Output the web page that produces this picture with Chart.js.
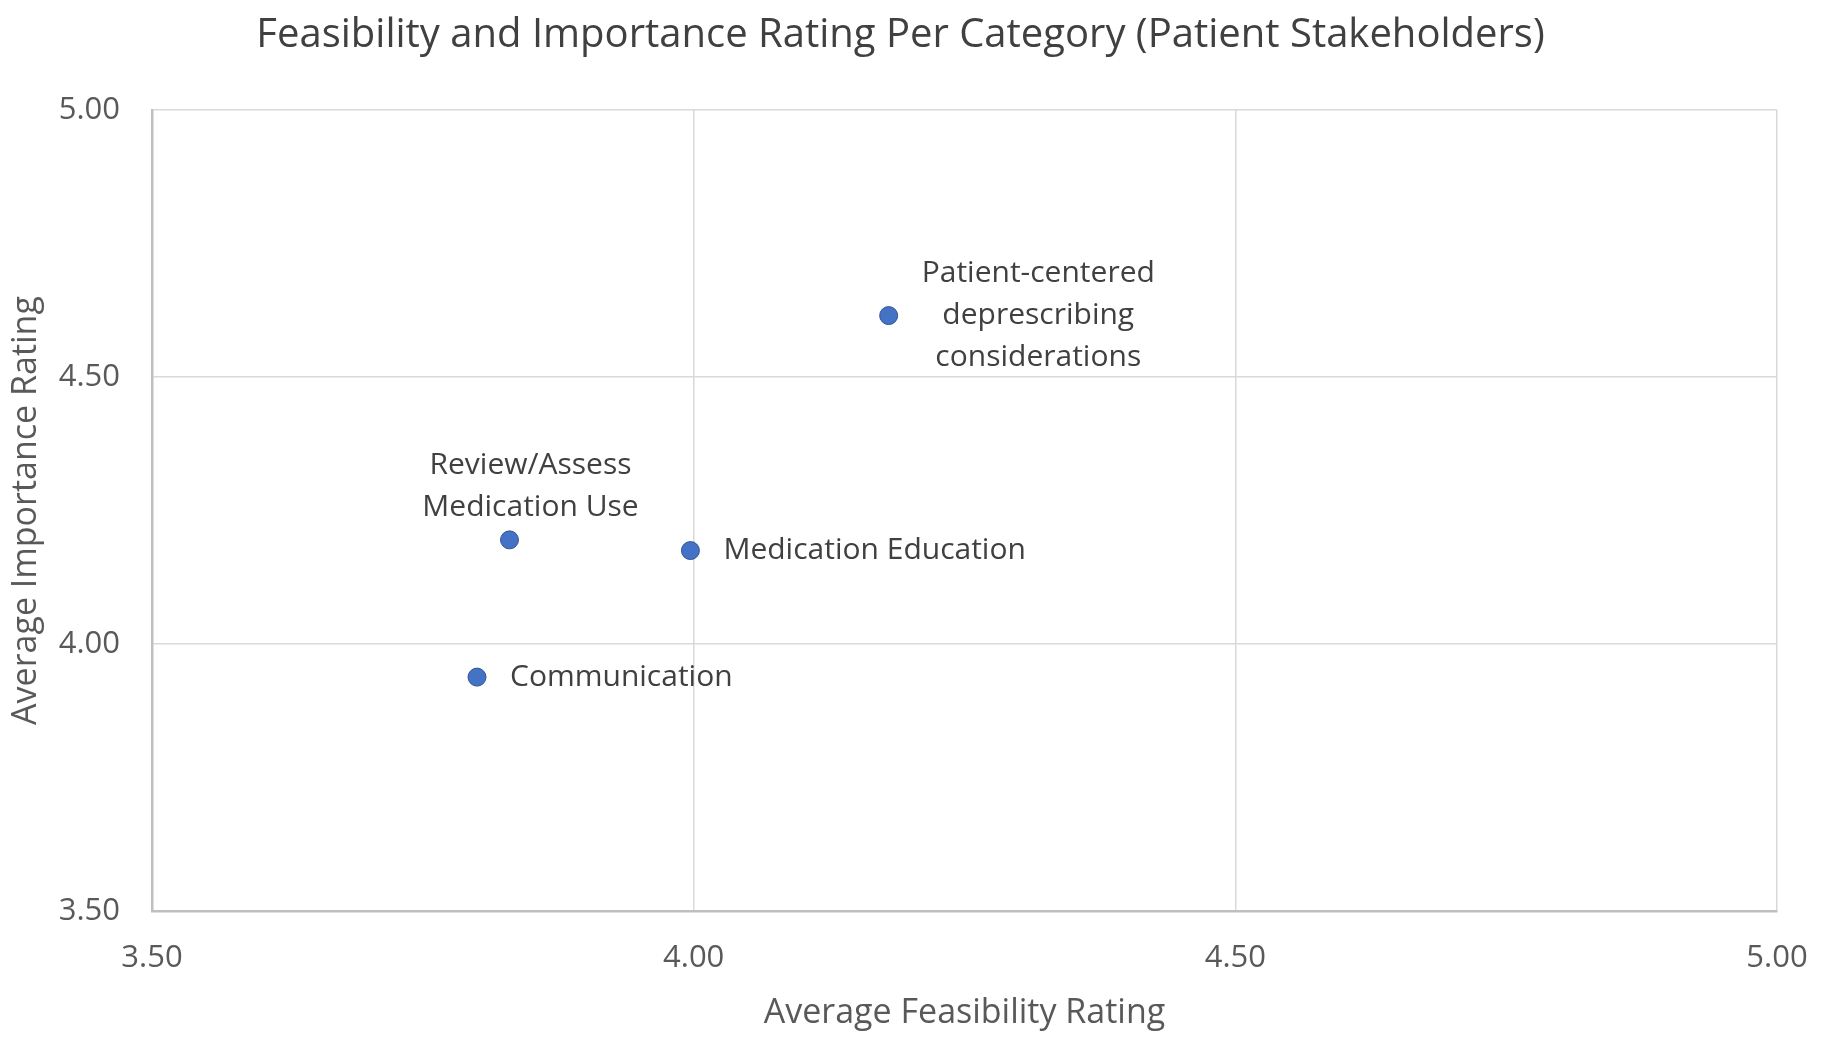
<!DOCTYPE html>
<html>
<head>
<meta charset="utf-8">
<title>Feasibility and Importance Rating</title>
<script src="https://cdn.jsdelivr.net/npm/chart.js@4/dist/chart.umd.min.js"></script>
<style>
    html, body { margin: 0; padding: 0; background: #ffffff; }
    #contenedor { width: 1828px; height: 1048px; }
</style>
</head>
<body>
<div id="contenedor"><canvas id="miGrafica" width="1828" height="1048"></canvas></div>
<script>
// datos
const categorias = ["Patient-centered deprescribing considerations", "Review/Assess Medication Use", "Medication Education", "Communication"];
const etiquetas = [["Patient-centered", "deprescribing", "considerations"], ["Review/Assess", "Medication Use"], ["Medication Education"], ["Communication"]];
const factibilidad = [4.18, 3.83, 3.997, 3.80];
const importancia = [4.615, 4.195, 4.175, 3.938];
const posicion = ["right", "above", "right", "right"];
const ticksEje = [3.5, 4.0, 4.5, 5.0];

const fuente = "'Open Sans', sans-serif";

// etiquetas de datos tipo excel
const pluginEtiquetas = {
    id: "etiquetas",
    afterDatasetsDraw(chart) {
        const ctx = chart.ctx;
        const meta = chart.getDatasetMeta(0);
        ctx.save();
        ctx.font = "30px " + fuente;
        ctx.fillStyle = "#404040";
        ctx.textBaseline = "middle";
        meta.data.forEach((punto, i) => {
            const lineas = etiquetas[i];
            const alto = 42;
            if (posicion[i] === "right") {
                let ancho = 0;
                lineas.forEach(l => { ancho = Math.max(ancho, ctx.measureText(l).width); });
                ctx.textAlign = "center";
                const cx = punto.x + 33 + ancho / 2;
                const y0 = punto.y - (lineas.length - 1) * alto / 2;
                lineas.forEach((l, j) => ctx.fillText(l, cx, y0 + j * alto));
            } else {
                ctx.textAlign = "center";
                const cx = punto.x + 21;
                const yUltima = punto.y - 32;
                lineas.forEach((l, j) => ctx.fillText(l, cx, yUltima - (lineas.length - 1 - j) * alto));
            }
        });
        ctx.restore();
    }
};

function crearGrafica() {
    const puntos = factibilidad.map((x, i) => ({ x: x, y: importancia[i] }));

    const ctx = document.getElementById("miGrafica").getContext("2d");
    new Chart(ctx, {
        type: "scatter",
        data: {
            datasets: [{
                label: "Categorias",
                data: puntos,
                backgroundColor: "#4472C4",
                borderColor: "#2F5597",
                borderWidth: 1,
                pointRadius: 9,
                pointHoverRadius: 9
            }]
        },
        options: {
            responsive: false,
            animation: false,
            layout: { padding: { left: 24, right: 51, top: 0, bottom: 0 } },
            plugins: {
                legend: { display: false },
                tooltip: { enabled: false },
                title: {
                    display: true,
                    text: "Feasibility and Importance Rating Per Category (Patient Stakeholders)",
                    color: "#404040",
                    font: { family: fuente, size: 40, weight: "normal" },
                    padding: { top: 12, bottom: 50 }
                }
            },
            scales: {
                x: {
                    type: "linear",
                    min: 3.5,
                    max: 5.0,
                    afterBuildTicks: (eje) => { eje.ticks = ticksEje.map(v => ({ value: v })); },
                    afterFit: (eje) => {
                        eje.height = 1048 - 911;
                        eje.paddingLeft = 0;
                        eje.paddingRight = 0;
                    },
                    ticks: {
                        color: "#595959",
                        font: { family: fuente, size: 31 },
                        padding: 29,
                        maxRotation: 0,
                        callback: (v) => Number(v).toFixed(2)
                    },
                    grid: { color: "#d9d9d9", lineWidth: 1.5, drawTicks: false },
                    border: { color: "#bfbfbf", width: 2.5 },
                    title: {
                        display: true,
                        text: "Average Feasibility Rating",
                        color: "#595959",
                        font: { family: fuente, size: 34 },
                        padding: { top: 10, bottom: 14 }
                    }
                },
                y: {
                    type: "linear",
                    min: 3.5,
                    max: 5.0,
                    afterBuildTicks: (eje) => { eje.ticks = ticksEje.map(v => ({ value: v })); },
                    afterFit: (eje) => { eje.width = 152 - 24; },
                    ticks: {
                        color: "#595959",
                        font: { family: fuente, size: 31 },
                        padding: 32,
                        callback: (v) => Number(v).toFixed(2)
                    },
                    grid: { color: "#d9d9d9", lineWidth: 1.5, drawTicks: false },
                    border: { color: "#bfbfbf", width: 2.5 },
                    title: {
                        display: true,
                        text: "Average Importance Rating",
                        color: "#595959",
                        font: { family: fuente, size: 34 },
                        padding: { top: -18, bottom: 0 }
                    }
                }
            }
        },
        plugins: [pluginEtiquetas]
    });
}

document.addEventListener("DOMContentLoaded", () => {
    crearGrafica();
});
</script>
</body>
</html>
